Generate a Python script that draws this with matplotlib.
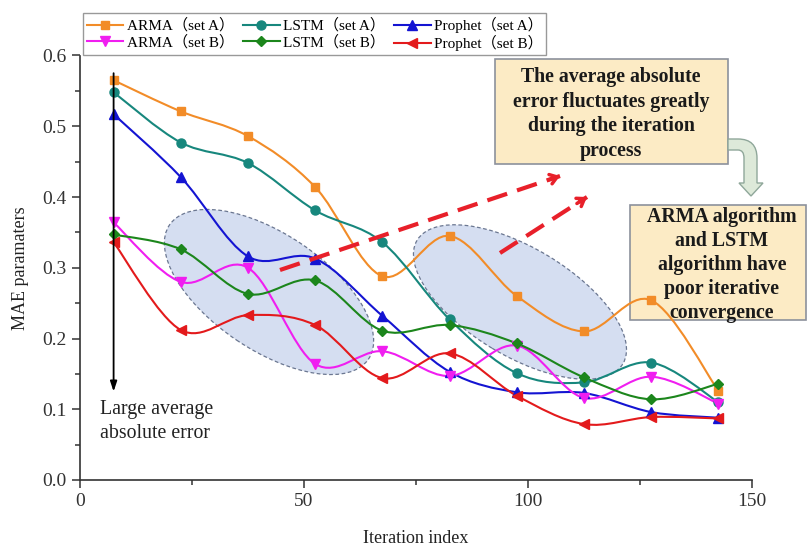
import numpy as np
import matplotlib
matplotlib.use("Agg")
from matplotlib import pyplot as plt
from matplotlib.path import Path
from matplotlib.patches import PathPatch, Ellipse, Rectangle, FancyArrowPatch
from matplotlib.lines import Line2D
from matplotlib.ticker import MultipleLocator

plt.rcParams['font.family'] = ['Liberation Serif', 'Noto Sans CJK SC']

# iteration index of each point
iters = [7.5, 22.5, 37.5, 52.5, 67.5, 82.5, 97.5, 112.5, 127.5, 142.5]

arma_a = [0.565, 0.521, 0.486, 0.414, 0.288, 0.345, 0.260, 0.210, 0.254, 0.126]
lstm_a = [0.548, 0.477, 0.448, 0.381, 0.336, 0.227, 0.151, 0.138, 0.166, 0.110]
prophet_a = [0.517, 0.428, 0.316, 0.313, 0.232, 0.153, 0.124, 0.123, 0.096, 0.088]
arma_b = [0.364, 0.280, 0.300, 0.164, 0.182, 0.147, 0.190, 0.116, 0.146, 0.108]
lstm_b = [0.347, 0.326, 0.263, 0.282, 0.211, 0.219, 0.193, 0.145, 0.114, 0.136]
prophet_b = [0.336, 0.212, 0.233, 0.219, 0.144, 0.179, 0.119, 0.079, 0.089, 0.087]

series = [
    ("ARMA（set A）", arma_a, "#f28c28", "s", 6),
    ("LSTM（set A）", lstm_a, "#17877d", "o", 6.5),
    ("Prophet（set A）", prophet_a, "#1414d2", "^", 7),
    ("ARMA（set B）", arma_b, "#f01ef0", "v", 7),
    ("LSTM（set B）", lstm_b, "#1c861c", "D", 5.5),
    ("Prophet（set B）", prophet_b, "#e31a1c", "<", 7),
]


def spline_path(x, y):
    # smooth curve through the points (Catmull-Rom as cubic Bezier)
    x = np.asarray(x, float)
    y = np.asarray(y, float)
    pts = np.column_stack([x, y])
    verts = [pts[0]]
    codes = [Path.MOVETO]
    n = len(pts)
    for i in range(n - 1):
        p0 = pts[i - 1] if i > 0 else pts[i]
        p1 = pts[i]
        p2 = pts[i + 1]
        p3 = pts[i + 2] if i + 2 < n else pts[i + 1]
        c1 = p1 + (p2 - p0) / 6.0
        c2 = p2 - (p3 - p1) / 6.0
        verts += [c1, c2, p2]
        codes += [Path.CURVE4] * 3
    return Path(verts, codes)


fig = plt.figure(figsize=(8.07, 5.49), dpi=100)
ax = fig.add_axes([80 / 807, 1 - 480 / 549, 672 / 807, 424.5 / 549])
tr = fig.dpi_scale_trans


def P(px, py):
    return (px / 100, (549 - py) / 100)


# shaded ellipses (behind the curves)
for cx, cy, w, h, ang in [(269, 292, 240, 116, -34), (520, 302, 240, 108, -31)]:
    e = Ellipse(P(cx, cy), w / 100, h / 100, angle=ang, transform=tr,
                facecolor="#d5def1", edgecolor="#6b7791", lw=0.9,
                linestyle=(0, (3, 2)), zorder=1, clip_on=False)
    ax.add_patch(e)

# lower text box sits under the curves
box_fc = "#fcebc5"
box_ec = "#8c919c"
ax.add_patch(Rectangle(P(630, 320), 176 / 100, 115 / 100, transform=tr,
                       facecolor=box_fc, edgecolor=box_ec, lw=1.2, zorder=2,
                       clip_on=False))

handles = []
for name, vals, col, mk, ms in series:
    patch = PathPatch(spline_path(iters, vals), facecolor="none", edgecolor=col,
                      lw=1.5, zorder=3)
    ax.add_patch(patch)
    ax.plot(iters, vals, ls="none", marker=mk, color=col, ms=ms, zorder=4)
    handles.append(Line2D([], [], color=col, marker=mk, ms=ms, lw=1.5))

# black arrow
ax.annotate("", xy=(iters[0], 0.125), xytext=(iters[0], 0.575),
            arrowprops=dict(arrowstyle="-|>,head_length=0.6,head_width=0.2",
                            color="black", lw=1.3, shrinkA=0, shrinkB=0), zorder=5)
ax.text(4.5, 0.083, "Large average\nabsolute error", fontsize=14.3, ha="left",
        va="center", linespacing=1.36, color="#222222")

ax.set_xlim(0, 150)
ax.set_ylim(0, 0.6)
ax.xaxis.set_major_locator(MultipleLocator(50))
ax.xaxis.set_minor_locator(MultipleLocator(25))
ax.yaxis.set_major_locator(MultipleLocator(0.1))
ax.yaxis.set_minor_locator(MultipleLocator(0.05))
ax.yaxis.set_major_formatter(matplotlib.ticker.FormatStrFormatter("%.1f"))
for s in ["top", "right"]:
    ax.spines[s].set_visible(False)
for s in ["left", "bottom"]:
    ax.spines[s].set_color("#333333")
    ax.spines[s].set_linewidth(1.2)
ax.tick_params(which="major", direction="out", length=6, width=1.1,
               labelsize=14, colors="#333333")
ax.tick_params(which="minor", direction="out", length=3.5, width=1.1, colors="#333333")
ax.set_xlabel("Iteration index", fontsize=13, labelpad=14, color="#222222")
ax.set_ylabel("MAE paramaters", fontsize=13, labelpad=10, color="#222222")
ax.patch.set_alpha(0)

# red dashed arrows
for (x0, y0), (x1, y1) in [((280, 270), (560, 176)), ((500, 253), (587, 197))]:
    a, b = P(x0, y0), P(x1, y1)
    fig.add_artist(Line2D([a[0], b[0]], [a[1], b[1]], transform=tr, color="#e8202a",
                          lw=3, dashes=(5, 2.5), zorder=6))
    d = np.array(b) - np.array(a)
    d = d / np.hypot(*d)
    start = np.array(b) - d * 0.12
    fig.add_artist(FancyArrowPatch(tuple(start), b, transform=tr,
                                   arrowstyle="->,head_length=5,head_width=3.5",
                                   color="#e8202a", lw=2.5, zorder=6,
                                   shrinkA=0, shrinkB=0))

# upper text box
fig.add_artist(Rectangle(P(495, 164), 233 / 100, 105 / 100, transform=tr,
                         facecolor=box_fc, edgecolor=box_ec, lw=1.2, zorder=7))
fig.text(611 / 807, 1 - 114 / 549,
         "The average absolute\nerror fluctuates greatly\nduring the iteration\nprocess",
         ha="center", va="center", fontsize=14.3, fontweight="bold",
         linespacing=1.3, zorder=8, color="#1a1a1a")
fig.text(722 / 807, 1 - 265 / 549,
         "ARMA algorithm\nand LSTM\nalgorithm have\npoor iterative\nconvergence",
         ha="center", va="center", fontsize=14.3, fontweight="bold",
         linespacing=1.27, zorder=8, color="#1a1a1a")

# bent arrow between boxes
pts = [(728, 139), (738, 139), (757, 139), (757, 158), (757, 183), (763, 183),
       (751, 196), (739, 183), (744, 183), (744, 158), (744, 150), (738, 150),
       (728, 150), (728, 139)]
codes = [Path.MOVETO, Path.LINETO, Path.CURVE3, Path.CURVE3, Path.LINETO,
         Path.LINETO, Path.LINETO, Path.LINETO, Path.LINETO, Path.LINETO,
         Path.CURVE3, Path.CURVE3, Path.LINETO, Path.CLOSEPOLY]
bent = Path([P(*p) for p in pts], codes)
fig.add_artist(PathPatch(bent, transform=tr, facecolor="#dde9d9",
                         edgecolor="#8fa79a", lw=1.0, zorder=8))

# legend filled row by row
order = [0, 3, 1, 4, 2, 5]
fig.legend([handles[i] for i in order], [series[i][0] for i in order], ncol=3,
           loc="upper left", bbox_to_anchor=(83 / 807, 1 - 13 / 549), fontsize=11,
           frameon=True, fancybox=False, edgecolor="#999999", framealpha=1,
           handlelength=2.4, handletextpad=0.2, columnspacing=0.6,
           labelspacing=0.15, borderpad=0.25, borderaxespad=0)

fig.savefig("out.png", dpi=100)
